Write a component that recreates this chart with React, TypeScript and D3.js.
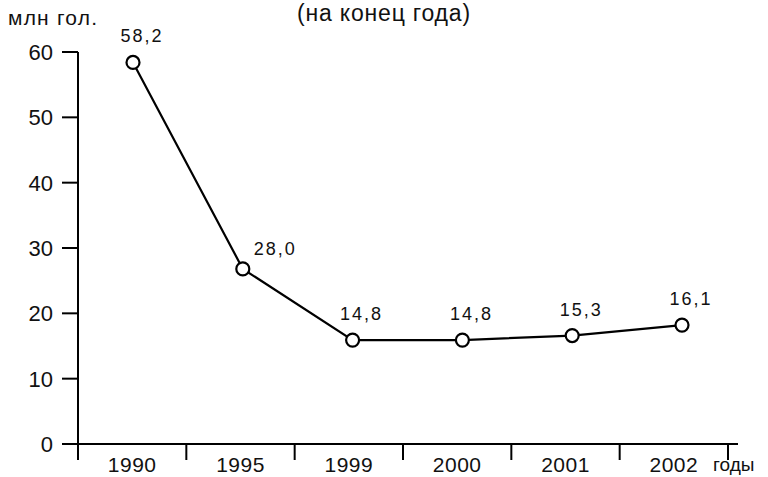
import React from "react";
import * as d3 from "d3";

const years = ["1990", "1995", "1999", "2000", "2001", "2002"];
const plotted = [58.4, 26.8, 15.9, 15.9, 16.6, 18.2];
const valueLabels = ["58,2", "28,0", "14,8", "14,8", "15,3", "16,1"];
const yTicks = [0, 10, 20, 30, 40, 50, 60];

const W = 768;
const H = 477;
const font = "'Liberation Sans', Arial, Helvetica, sans-serif";

export default function App() {
  const x0 = 78, x1 = 728, yBase = 444, yTop = 52;
  const band = d3.scaleBand<string>().domain(years).range([x0, x1]).padding(0);
  const px = d3.scalePoint<string>().domain(years).range([133, 682]);
  const y = d3.scaleLinear().domain([0, 60]).range([yBase, yTop]);
  const line = d3
    .line<number>()
    .x((_, i) => px(years[i])!)
    .y((d) => y(d));
  const bounds = [...years.map((yr) => band(yr)!), x1];

  return (
    <svg
      width={W}
      height={H}
      style={{ position: "absolute", left: 0, top: 0, background: "#fff" }}
      fontFamily={font}
    >
      <text x={384} y={21} fontSize={23} textAnchor="middle" fill="#111" letterSpacing={0.8}>
        (на конец года)
      </text>
      <text x={8} y={25} fontSize={21} fill="#111" letterSpacing={1.2}>
        млн гол.
      </text>
      {/* y axis */}
      <line x1={x0} x2={x0} y1={yTop} y2={yBase} stroke="#000" strokeWidth={2} />
      {yTicks.map((t) => (
        <g key={t}>
          <line x1={x0 - 16} x2={x0} y1={y(t)} y2={y(t)} stroke="#000" strokeWidth={2} />
          <text
            x={x0 - 25}
            y={y(t)}
            dy="0.36em"
            fontSize={22}
            textAnchor="end"
            fill="#111"
          >
            {t}
          </text>
        </g>
      ))}
      {/* x axis */}
      <line x1={x0} x2={738} y1={yBase} y2={yBase} stroke="#000" strokeWidth={2} />
      {bounds.map((b, i) => (
        <line key={i} x1={b} x2={b} y1={yBase} y2={yBase + 16} stroke="#000" strokeWidth={2} />
      ))}
      {years.map((yr) => (
        <text
          key={yr}
          x={band(yr)! + band.bandwidth() / 2}
          y={472}
          fontSize={21}
          textAnchor="middle"
          fill="#111"
          letterSpacing={0.5}
        >
          {yr}
        </text>
      ))}
      <text x={713} y={471} fontSize={19} fill="#111">
        годы
      </text>
      <path d={line(plotted)!} fill="none" stroke="#000" strokeWidth={2.2} />
      {plotted.map((v, i) => (
        <circle
          key={i}
          cx={px(years[i])!}
          cy={y(v)}
          r={6.5}
          fill="#fff"
          stroke="#000"
          strokeWidth={2.2}
        />
      ))}
      {plotted.map((v, i) => {
        const cx = px(years[i])!;
        const cy = y(v);
        const side = i === 1;
        return (
          <text
            key={i}
            x={side ? cx + 11 : cx + 9}
            y={side ? cy - 14 : cy - 20}
            fontSize={18}
            textAnchor={side ? "start" : "middle"}
            fill="#111"
            letterSpacing={2}
          >
            {valueLabels[i]}
          </text>
        );
      })}
    </svg>
  );
}
